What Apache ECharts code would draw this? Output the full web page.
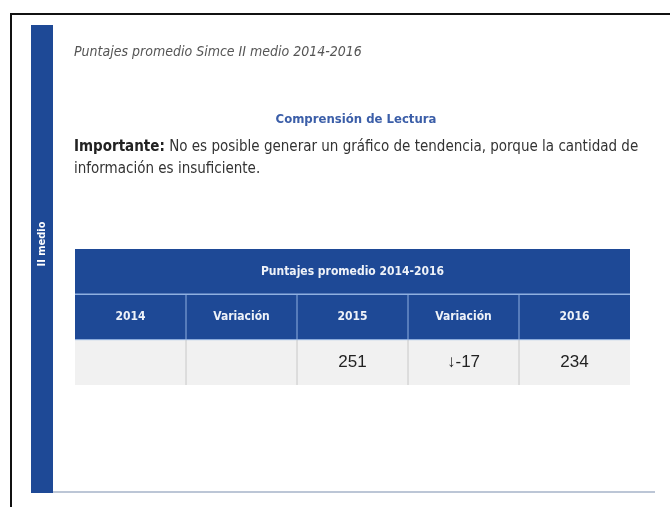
<!DOCTYPE html>
<html>
<head>
<meta charset="utf-8">
<script src="https://cdn.jsdelivr.net/npm/echarts@6/dist/echarts.min.js"></script>
<style>
  html, body { margin: 0; padding: 0; background: #fff; }
  #main { width: 670px; height: 507px; }
</style>
</head>
<body>
<div id="main"></div>
<script>
// datos de la tabla
const pageTitle = 'Puntajes promedio Simce II medio 2014-2016';
const subject = 'Comprensión de Lectura';
const noteBold = 'Importante:';
const noteLines = [' No es posible generar un gráfico de tendencia, porque la cantidad de', 'información es insuficiente.'];
const sideLabel = 'II medio';
const tableTitle = 'Puntajes promedio 2014-2016';
const columns = ['2014', 'Variación', '2015', 'Variación', '2016'];
const scores = [null, null, 251, -17, 234];
const isVariation = [false, true, false, true, false];

const blue = '#1e4996';
const narrow = '"Liberation Sans Narrow", "DejaVu Sans Condensed", "Noto Sans", sans-serif';

function fmt(v, i) {
  if (v === null) return '';
  if (isVariation[i]) return (v < 0 ? '\u2193' : '\u2191') + v;
  return String(v);
}

// celdas: [x0, x1, fila, texto, tipo]
const cells = [];
cells.push([0, columns.length, 0, tableTitle, 'title']);
columns.forEach(function (c, i) { cells.push([i, i + 1, 1, c, 'head']); });
scores.forEach(function (v, i) { cells.push([i, i + 1, 2, fmt(v, i), 'data']); });

const chart = echarts.init(document.getElementById('main'));

chart.setOption({
  animation: false,
  backgroundColor: '#fff',
  grid: { left: 75, right: 40, top: 249, bottom: 122 },
  xAxis: { type: 'value', min: 0, max: columns.length, show: false },
  yAxis: { type: 'value', min: 0, max: 3, inverse: true, show: false },
  graphic: [
    // marco
    { type: 'line', shape: { x1: 10, y1: 14, x2: 670, y2: 14 }, style: { stroke: '#111', lineWidth: 2 } },
    { type: 'line', shape: { x1: 11, y1: 14, x2: 11, y2: 507 }, style: { stroke: '#111', lineWidth: 2 } },
    // barra lateral
    { type: 'rect', shape: { x: 31, y: 25, width: 22, height: 468 }, style: { fill: blue } },
    { type: 'text', x: 42, y: 244, rotation: Math.PI / 2,
      style: { text: sideLabel, fill: '#fff', font: 'bold 11px ' + narrow, align: 'center', verticalAlign: 'middle' } },
    { type: 'line', shape: { x1: 53, y1: 492, x2: 655, y2: 492 }, style: { stroke: '#bcc6d6', lineWidth: 2 } },
    // textos
    { type: 'text', x: 74, y: 52,
      style: { text: pageTitle, fill: '#555', font: 'italic 14px ' + narrow, verticalAlign: 'middle' } },
    { type: 'text', x: 356, y: 120,
      style: { text: subject, fill: '#3b5ea8', font: 'bold 13px ' + narrow, align: 'center', verticalAlign: 'middle' } },
    { type: 'text', x: 74, y: 158,
      style: {
        text: '{b|' + noteBold + '}' + noteLines[0] + '\n' + noteLines[1],
        fill: '#333', font: '15px ' + narrow, lineHeight: 22, verticalAlign: 'middle',
        rich: { b: { font: 'bold 15px ' + narrow, fill: '#222' } }
      } }
  ],
  series: [{
    type: 'custom',
    data: cells,
    renderItem: function (params, api) {
      const x0 = api.value(0), x1 = api.value(1), row = api.value(2);
      const kind = cells[params.dataIndex][4];
      const text = cells[params.dataIndex][3];
      const p0 = api.coord([x0, row]);
      const p1 = api.coord([x1, row + 1]);
      const w = p1[0] - p0[0], h = p1[1] - p0[1];
      const header = kind !== 'data';
      const children = [
        { type: 'rect', shape: { x: p0[0], y: p0[1], width: w, height: h },
          style: { fill: header ? blue : '#f1f1f1' } }
      ];
      // separadores
      if (x0 > 0) {
        children.push({ type: 'line', shape: { x1: p0[0], y1: p0[1], x2: p0[0], y2: p1[1] },
          style: { stroke: header ? '#8fb0e0' : '#c8c8c8', lineWidth: 1 } });
      }
      if (row > 0) {
        children.push({ type: 'line', shape: { x1: p0[0], y1: p0[1], x2: p1[0], y2: p0[1] },
          style: { stroke: '#8fb0e0', lineWidth: row === 1 ? 1.5 : 1 } });
      }
      children.push({ type: 'text', x: p0[0] + w / 2, y: p0[1] + h / 2,
        style: {
          text: text, align: 'center', verticalAlign: 'middle',
          fill: header ? '#eef2f8' : '#222',
          font: header ? 'bold 12px ' + narrow : '17px "Liberation Sans", Arial, sans-serif'
        } });
      return { type: 'group', children: children };
    }
  }]
});
</script>
</body>
</html>
